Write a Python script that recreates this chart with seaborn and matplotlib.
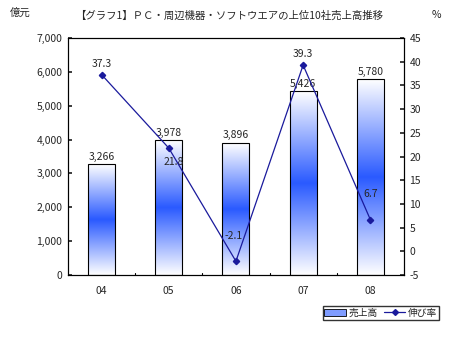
import numpy as np
import pandas as pd
import matplotlib
matplotlib.use("Agg")
import matplotlib.pyplot as plt
import seaborn as sns
from matplotlib.colors import LinearSegmentedColormap
from matplotlib.patches import Patch
from matplotlib.lines import Line2D

years = ["04", "05", "06", "07", "08"]
sales = [3266, 3978, 3896, 5426, 5780]
growth = [37.3, 21.8, -2.1, 39.3, 6.7]
sales_labels = ["3,266", "3,978", "3,896", "5,426", "5,780"]

sns.set_theme(style="white")
plt.rcParams['font.family'] = ['Noto Sans CJK JP', 'DejaVu Sans']

fig = plt.figure(figsize=(4.59, 3.37), dpi=100)
ax = fig.add_axes([0.148, 0.184, 0.732, 0.703])

df = pd.DataFrame({"year": years, "sales": sales})
sns.barplot(data=df, x="year", y="sales", ax=ax, width=0.4,
            facecolor="none", edgecolor="black", linewidth=0.8)

cmap = LinearSegmentedColormap.from_list(
    "g", [(0, "#ffffff"), (0.5, "#2a5aff"), (1, "#ffffff")])
grad = np.linspace(0, 1, 256).reshape(-1, 1)
for p, lab in zip(ax.patches, sales_labels):
    x0, y0 = p.get_x(), p.get_y()
    w, h = p.get_width(), p.get_height()
    im = ax.imshow(grad, cmap=cmap, aspect="auto",
                   extent=[x0, x0 + w, y0, y0 + h], zorder=1, origin="lower")
    im.set_clip_path(p)
    p.set_zorder(2)
    ax.text(x0 + w / 2, y0 + h + 80, lab, ha="center", va="bottom", fontsize=7.5)

ax.set_xlim(-0.5, 4.5)
ax.set_ylim(0, 7000)
ax.set_yticks(range(0, 7001, 1000))
ax.set_yticklabels([f"{v:,}" for v in range(0, 7001, 1000)], fontsize=7.5)
ax.set_xticks(range(5))
ax.set_xticklabels(years, fontsize=7.5)
ax.set_xlabel("")
ax.set_ylabel("")
ax.tick_params(axis="x", length=0, pad=8)
ax.tick_params(axis="y", direction="in", length=3, left=True, pad=4)
for xb in [0.5, 1.5, 2.5, 3.5]:
    ax.plot([xb, xb], [0, 70], color="black", lw=0.8, zorder=3)
for s in ax.spines.values():
    s.set_color("black")
    s.set_linewidth(0.8)

ax2 = ax.twinx()
ax2.plot(range(5), growth, color="#1a1a9c", lw=0.9, marker="D", markersize=3.2, zorder=5)
ax2.set_ylim(-5, 45)
ax2.set_yticks(range(-5, 46, 5))
ax2.set_yticklabels([str(v) for v in range(-5, 46, 5)], fontsize=7.5)
ax2.tick_params(axis="y", direction="in", length=3, right=True, pad=4)
ax2.grid(False)
ax.grid(False)
for s in ax2.spines.values():
    s.set_color("black")
    s.set_linewidth(0.8)

offsets = [(0, 2.3), (0.07, -3.0), (-0.04, 5.4), (0, 2.3), (0, 5.3)]
for i, (g, (dx, dy)) in enumerate(zip(growth, offsets)):
    ax2.text(i + dx, g + dy, f"{g}", ha="center", va="center", fontsize=7.5)

fig.text(0.50, 0.955, "【グラフ1】ＰＣ・周辺機器・ソフトウエアの上位10社売上高推移",
         ha="center", va="center", fontsize=7.5)
fig.text(0.022, 0.962, "億元", ha="left", va="center", fontsize=7.5)
fig.text(0.94, 0.955, "%", ha="left", va="center", fontsize=7.5)

handles = [Patch(facecolor="#7f9cff", edgecolor="black", linewidth=0.6),
           Line2D([0], [0], color="#1a1a9c", lw=0.9, marker="D", markersize=3)]
fig.legend(handles, ["売上高", "伸び率"], loc="center", bbox_to_anchor=(0.83, 0.072),
           ncol=2, fontsize=7, frameon=True, fancybox=False, edgecolor="black",
           handlelength=2.2, handletextpad=0.3, columnspacing=0.6,
           borderpad=0.2)

fig.savefig("out.png", dpi=100)
